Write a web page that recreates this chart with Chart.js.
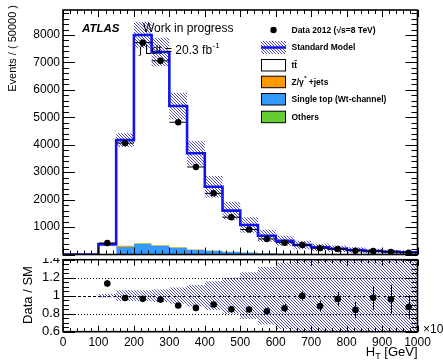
<!DOCTYPE html>
<html><head><meta charset="utf-8">
<script src="https://cdn.jsdelivr.net/npm/chart.js@4"></script>
<style>
html,body{margin:0;padding:0;background:#fff;width:443px;height:361px;overflow:hidden}
#top{position:absolute;left:0;top:0;width:443px;height:258px}
#bot{position:absolute;left:0;top:258px;width:443px;height:103px}
</style></head><body>
<div id="top"><canvas id="c1"></canvas></div>
<div id="bot"><canvas id="c2"></canvas></div>
<script>
// ---- data (H_T bins of 50 GeV, 0..1000) ----
const binEdges = [0,50,100,150,200,250,300,350,400,450,500,550,600,650,700,750,800,850,900,950,1000];
const ttbar     = [0,0,354,3842,7585,7032,5139,3498,2316,1489,997,628,460,317,241,194,152,119,93,74];
const zjets     = [0,0,5,50,25,20,15,12,10,8,6,5,4,3,2,2,1,1,1,1];
const singleTop = [0,0,10,270,380,320,250,175,140,100,70,50,35,25,18,14,10,8,6,5];
const others    = [0,0,1,8,10,8,6,5,4,3,2,2,1,1,1,1,1,0,0,0];
const dataVals  = [0,0,420,4060,7720,7060,4820,3190,2230,1360,910,567,430,345,232,203,138,125,96,70];
const ratioErr  = [0,0,0.04,0.02,0.015,0.015,0.015,0.02,0.025,0.03,0.035,0.04,0.05,0.05,0.06,0.08,0.09,0.13,0.16,0.13];
const smRelUnc  = [0,0,0.02,0.06,0.06,0.07,0.09,0.12,0.16,0.20,0.26,0.32,0.37,0.45,0.5,0.55,0.6,0.65,0.7,0.75];
const yTicksTop = [1000,2000,3000,4000,5000,6000,7000,8000];
const xTickLabels = [0,100,200,300,400,500,600,700,800,900,1000];
const ratioTicks = [0.6,0.8,1,1.2,1.4];

const FONT = "'Liberation Sans', Arial, Helvetica, sans-serif";
const nb = binEdges.length - 1;
const sm = ttbar.map((v,i)=>v+zjets[i]+singleTop[i]+others[i]);
const c1 = singleTop.slice();
const c2 = c1.map((v,i)=>v+zjets[i]);
const c3 = c2.map((v,i)=>v+others[i]);
const c4 = c3.map((v,i)=>v+ttbar[i]);
function stepPts(arr){ const p=[]; for(let i=0;i<nb;i++) p.push({x:binEdges[i],y:arr[i]}); p.push({x:binEdges[nb],y:arr[nb-1]}); return p; }
const centers = binEdges.slice(0,nb).map((e,i)=>(e+binEdges[i+1])/2);
const ratio = dataVals.map((d,i)=> sm[i]>0 ? d/sm[i] : null);

// hatch pattern
function makeHatch(){
  const t=document.createElement('canvas'); t.width=3; t.height=3;
  const g=t.getContext('2d'); g.fillStyle='#5050b4';
  for(let i=0;i<3;i++) g.fillRect(i,i,1,1);
  return g.createPattern(t,'repeat');
}
const hatch = makeHatch();

function fixAxis(w){ return function(s){ if(w!==undefined) s.width=w; s.paddingTop=0; s.paddingBottom=0; s.paddingLeft=0; s.paddingRight=0; }; }

function frameTicks(chart, cfg){
  const ctx=chart.ctx, a=chart.chartArea, xs=chart.scales.x, ys=chart.scales.y;
  ctx.save(); ctx.strokeStyle='#000'; ctx.lineWidth=1;
  ctx.beginPath();
  for(let k=0;k<=cfg.xN;k++){
    const v=k*cfg.xMinor, px=Math.round(xs.getPixelForValue(v))+0.5;
    const L = (k%cfg.xEvery===0)?cfg.xMajLen:cfg.xMinLen;
    ctx.moveTo(px,a.bottom); ctx.lineTo(px,a.bottom-L);
    ctx.moveTo(px,a.top); ctx.lineTo(px,a.top+L);
  }
  for(let k=cfg.yK0;k<=cfg.yK1;k++){
    const v=k*cfg.yMinor; if(v>ys.max+1e-9) break;
    const py=Math.round(ys.getPixelForValue(v))+0.5;
    const L = (k%cfg.yEvery===0)?cfg.yMajLen:cfg.yMinLen;
    ctx.moveTo(a.left,py); ctx.lineTo(a.left+L,py);
    ctx.moveTo(a.right,py); ctx.lineTo(a.right-L,py);
  }
  ctx.stroke();
  ctx.lineWidth=1.6; ctx.strokeRect(a.left,a.top,a.right-a.left,a.bottom-a.top);
  ctx.restore();
}

// ---------- TOP PANEL ----------
const topPlugin = {
  id:'topDeco',
  afterDatasetsDraw(chart){
    const ctx=chart.ctx, xs=chart.scales.x, ys=chart.scales.y;
    ctx.save(); ctx.strokeStyle='#000'; ctx.lineWidth=1;
    ctx.beginPath();
    for(let i=0;i<nb;i++){
      if(!(dataVals[i]>0)) continue;
      const py=ys.getPixelForValue(dataVals[i]);
      ctx.moveTo(xs.getPixelForValue(binEdges[i]),py); ctx.lineTo(xs.getPixelForValue(binEdges[i+1]),py);
      const e=ratioErr[i]*sm[i];
      const pc=xs.getPixelForValue(centers[i]);
      ctx.moveTo(pc,ys.getPixelForValue(dataVals[i]-e)); ctx.lineTo(pc,ys.getPixelForValue(dataVals[i]+e));
    }
    ctx.stroke(); ctx.restore();
  },
  afterDraw(chart){
    frameTicks(chart,{xN:50,xMinor:20,xEvery:5,xMajLen:7,xMinLen:4,yK0:0,yK1:45,yMinor:200,yEvery:5,yMajLen:12,yMinLen:6});
    const ctx=chart.ctx; ctx.save(); ctx.fillStyle='#000';
    ctx.save(); ctx.translate(13,5); ctx.rotate(-Math.PI/2);
    ctx.font='11px '+FONT; ctx.textAlign='right'; ctx.textBaseline='middle';
    ctx.fillText('Events / ( 50000 )',0,0); ctx.restore();
    ctx.textBaseline='alphabetic'; ctx.textAlign='left';
    ctx.font='italic bold 11.5px '+FONT; ctx.fillText('ATLAS',82,31.5);
    ctx.font='12px '+FONT; ctx.fillText('Work in progress',143,31.5);
    ctx.font='11px '+FONT; ctx.fillText('\u222B',139,54);
    ctx.font='12px '+FONT; ctx.fillText('Ldt = 20.3 fb',145,54);
    let w=ctx.measureText('Ldt = 20.3 fb').width;
    ctx.font='8px '+FONT; ctx.fillText('-1',145+w+0.5,47.5);
    // legend
    const tx=291.5;
    ctx.font='bold 8.5px '+FONT; ctx.textBaseline='middle';
    ctx.beginPath(); ctx.arc(273.5,30,3.2,0,Math.PI*2); ctx.fill();
    ctx.fillText('Data 2012 (\u221As=8 TeV)',tx,30.5);
    ctx.fillStyle=hatch; ctx.fillRect(261,41,25,13);
    ctx.strokeStyle='#1414f0'; ctx.lineWidth=2.5; ctx.beginPath(); ctx.moveTo(261,47.5); ctx.lineTo(286,47.5); ctx.stroke();
    ctx.fillStyle='#000'; ctx.fillText('Standard Model',tx,47.5);
    const boxes=[['#ffffff',65,'tt\u0304'],['#ff9900',81.7,'Z/\u03B3'],['#3399ff',99,'Single top (Wt-channel)'],['#66cc33',116.7,'Others']];
    ctx.lineWidth=1; ctx.strokeStyle='#000';
    boxes.forEach(b=>{
      ctx.fillStyle=b[0]; ctx.fillRect(261.5,b[1]-5.5,24,11.5);
      ctx.strokeRect(261.5,b[1]-5.5,24,11.5);
      ctx.fillStyle='#000'; ctx.fillText(b[2],tx,b[1]+0.5);
    });
    w=ctx.measureText('Z/\u03B3').width;
    ctx.font='bold 6px '+FONT; ctx.fillText('*',tx+w+0.5,78);
    ctx.font='bold 8.5px '+FONT; ctx.fillText('+jets',tx+w+5,82.2);
    ctx.restore();
  }
};

new Chart(document.getElementById('c1'),{
  type:'line',
  data:{datasets:[
    {data:stepPts(c1),stepped:true,fill:'origin',backgroundColor:'#3399ff',borderColor:'rgba(0,0,0,0)',borderWidth:0,pointRadius:0,order:20},
    {data:stepPts(c2),stepped:true,fill:'-1',backgroundColor:'#ff9900',borderColor:'rgba(0,0,0,0)',borderWidth:0,pointRadius:0,order:19},
    {data:stepPts(c3),stepped:true,fill:'-1',backgroundColor:'#66cc33',borderColor:'rgba(0,0,0,0)',borderWidth:0,pointRadius:0,order:18},
    {data:stepPts(c4),stepped:true,fill:'-1',backgroundColor:'#ffffff',borderColor:'#000',borderWidth:1,pointRadius:0,order:17},
    {data:stepPts(sm.map((v,i)=>v*(1+smRelUnc[i]))),stepped:true,fill:'+1',backgroundColor:hatch,borderColor:'rgba(0,0,0,0)',borderWidth:0,pointRadius:0,order:10},
    {data:stepPts(sm.map((v,i)=>v*(1-smRelUnc[i]))),stepped:true,fill:false,borderColor:'rgba(0,0,0,0)',borderWidth:0,pointRadius:0,order:11},
    {data:stepPts(sm),stepped:true,fill:false,borderColor:'#1414f0',borderWidth:2.6,pointRadius:0,order:5},
    {data:centers.map((c,i)=>({x:c,y:dataVals[i]})).filter(p=>p.y>0),showLine:false,pointRadius:3.2,pointBackgroundColor:'#000',pointBorderColor:'#000',pointBorderWidth:0,order:1}
  ]},
  options:{
    responsive:true,maintainAspectRatio:false,animation:false,devicePixelRatio:1,
    layout:{autoPadding:false,padding:{left:0,right:25.5,top:10,bottom:3.5}},
    plugins:{legend:{display:false},tooltip:{enabled:false}},
    elements:{line:{tension:0}},
    scales:{
      x:{type:'linear',min:0,max:1000,display:false},
      y:{type:'linear',min:0,max:8911,
         grid:{display:false,drawTicks:false},border:{display:false},
         ticks:{stepSize:1000,padding:3,autoSkip:false,color:'#000',font:{family:FONT,size:12},callback:v=>String(v)},
         afterBuildTicks(s){ s.ticks = yTicksTop.map(v=>({value:v})); },
         afterFit:fixAxis(63)}
    }
  },
  plugins:[topPlugin]
});

// ---------- RATIO PANEL ----------
const botPlugin = {
  id:'botDeco',
  beforeDatasetsDraw(chart){
    const ctx=chart.ctx,a=chart.chartArea,ys=chart.scales.y;
    ctx.save(); ctx.strokeStyle='#000'; ctx.lineWidth=1;
    [[0.8,[1,2]],[1.2,[1,2]],[1.0,[3,2]]].forEach(([v,d])=>{
      const py=Math.round(ys.getPixelForValue(v))+0.5;
      ctx.setLineDash(d); ctx.beginPath(); ctx.moveTo(a.left,py); ctx.lineTo(a.right,py); ctx.stroke();
    });
    ctx.restore();
  },
  afterDatasetsDraw(chart){
    const ctx=chart.ctx,xs=chart.scales.x,ys=chart.scales.y,a=chart.chartArea;
    ctx.save(); ctx.beginPath(); ctx.rect(a.left,a.top,a.right-a.left,a.bottom-a.top); ctx.clip();
    ctx.strokeStyle='#000'; ctx.lineWidth=1; ctx.beginPath();
    for(let i=0;i<nb;i++){
      if(ratio[i]===null||!(dataVals[i]>0)) continue;
      const pc=Math.round(xs.getPixelForValue(centers[i]))+0.5;
      ctx.moveTo(pc,ys.getPixelForValue(ratio[i]-ratioErr[i])); ctx.lineTo(pc,ys.getPixelForValue(ratio[i]+ratioErr[i]));
    }
    ctx.stroke(); ctx.restore();
  },
  afterDraw(chart){
    frameTicks(chart,{xN:50,xMinor:20,xEvery:5,xMajLen:6,xMinLen:3.5,yK0:12,yK1:28,yMinor:0.05,yEvery:4,yMajLen:12,yMinLen:6});
    const ctx=chart.ctx; ctx.save(); ctx.fillStyle='#000';
    ctx.save(); ctx.translate(28,37); ctx.rotate(-Math.PI/2);
    ctx.font='13px '+FONT; ctx.textAlign='center'; ctx.textBaseline='middle';
    ctx.fillText('Data / SM',0,0); ctx.restore();
    ctx.textBaseline='alphabetic'; ctx.textAlign='left';
    ctx.font='13px '+FONT; const wG=ctx.measureText(' [GeV]').width, wH=ctx.measureText('H').width;
    ctx.font='9px '+FONT; const wT=ctx.measureText('T').width;
    const xr=417.5, x0=xr-wG-wT-wH;
    ctx.font='13px '+FONT; ctx.fillText('H',x0,98); ctx.fillText(' [GeV]',x0+wH+wT,98);
    ctx.font='9px '+FONT; ctx.fillText('T',x0+wH,101);
    ctx.font='12px '+FONT; ctx.fillText('\u00D710',423,75);
    const w10=ctx.measureText('\u00D710').width;
    ctx.font='8px '+FONT; ctx.fillText('3',423+w10+0.5,69);
    ctx.restore();
  }
};

new Chart(document.getElementById('c2'),{
  type:'line',
  data:{datasets:[
    {data:stepPts(smRelUnc.map((r,i)=>sm[i]>0?1+r:1)),stepped:true,fill:'+1',backgroundColor:hatch,borderColor:'rgba(0,0,0,0)',borderWidth:0,pointRadius:0,order:10},
    {data:stepPts(smRelUnc.map((r,i)=>sm[i]>0?1-r:1)),stepped:true,fill:false,borderColor:'rgba(0,0,0,0)',borderWidth:0,pointRadius:0,order:11},
    {data:centers.map((c,i)=>({x:c,y:ratio[i]})).filter((p,i)=>p.y!==null&&dataVals[i]>0),showLine:false,pointRadius:3.3,pointBackgroundColor:'#000',pointBorderColor:'#000',pointBorderWidth:0,order:1}
  ]},
  options:{
    responsive:true,maintainAspectRatio:false,animation:false,devicePixelRatio:1,
    layout:{autoPadding:false,padding:{left:0,right:25.5,top:1.7,bottom:0}},
    plugins:{legend:{display:false},tooltip:{enabled:false}},
    scales:{
      x:{type:'linear',min:0,max:1000,
         grid:{display:false,drawTicks:false},border:{display:false},
         ticks:{stepSize:100,padding:4,autoSkip:false,maxRotation:0,color:'#000',font:{family:FONT,size:12},callback:v=>String(v)},
         afterBuildTicks(s){ s.ticks = xTickLabels.map(v=>({value:v})); },
         afterFit(s){ s.height=29.3; s.paddingLeft=0; s.paddingRight=0; s.paddingTop=0; s.paddingBottom=0; }},
      y:{type:'linear',min:0.6,max:1.4,
         grid:{display:false,drawTicks:false},border:{display:false},
         ticks:{padding:3,autoSkip:false,color:'#000',font:{family:FONT,size:13},callback:v=>String(Math.round(v*10)/10)},
         afterBuildTicks(s){ s.ticks = ratioTicks.map(v=>({value:v})); },
         afterFit:fixAxis(63)}
    }
  },
  plugins:[botPlugin]
});
</script>
</body></html>
